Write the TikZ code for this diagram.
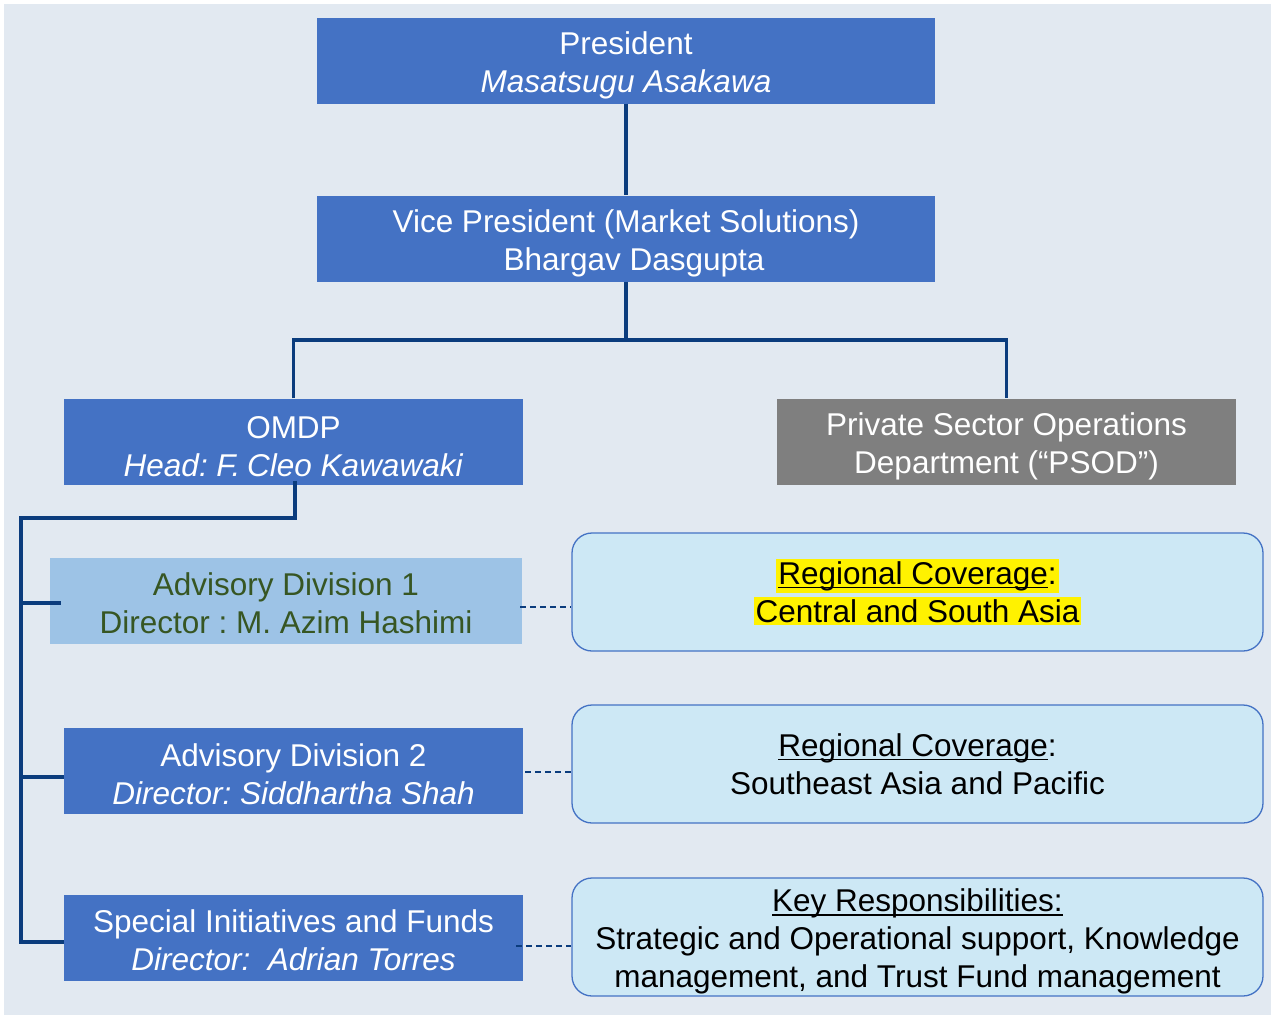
\documentclass[tikz,border=0pt]{standalone}
\usepackage{fontspec}
\setmainfont{Liberation Sans}
\frenchspacing
\definecolor{bgc}{HTML}{E2E9F1}
\definecolor{boxblue}{HTML}{4472C4}
\definecolor{advlight}{HTML}{9DC3E6}
\definecolor{advgreen}{HTML}{375623}
\definecolor{psodgray}{HTML}{7F7F7F}
\definecolor{navy}{HTML}{0B3C7D}
\definecolor{covfill}{HTML}{CDE8F5}
\newcommand\bigfs{\fontsize{31.5}{38}\selectfont\frenchspacing}
\newcommand\myul[1]{\setbox0\hbox{#1}\rlap{\rule[-4pt]{\wd0}{1.6pt}}\box0}
\newcommand\topstrut[1]{\rule{0pt}{#1}}
\setlength\fboxsep{2pt}
\begin{document}
\begin{tikzpicture}[x=1pt,y=-1pt,
  box/.style={rectangle, fill=boxblue, text=white, align=center, font=\bigfs, inner sep=0pt, minimum height=86},
  covbox/.style={rectangle, rounded corners=20pt, draw=boxblue, line width=1.3pt, fill=covfill, text=black, align=center, font=\bigfs, inner sep=0pt, minimum width=691, minimum height=118},
  conn/.style={draw=navy, line width=3.2pt},
  dashline/.style={draw=navy, line width=2.2pt, dash pattern=on 6pt off 4pt}]
\useasboundingbox (0,0) rectangle (1274,1018);
\fill[bgc] (4,4) rectangle (1271,1015);

\node[box, minimum width=618] (pres) at (626,60.5) {\topstrut{33pt}President\\\textit{Masatsugu Asakawa}};
\node[box, minimum width=618] (vp) at (626,238.5) {\topstrut{33pt}Vice President (Market Solutions)\\\hspace*{16pt}Bhargav Dasgupta};
\node[box, minimum width=459] (omdp) at (293.5,441.5) {\topstrut{33pt}OMDP\\\textit{Head: F.\kern-2pt\ Cleo Kawawaki}};
\node[box, fill=psodgray, minimum width=459] (psod) at (1006.5,441.5) {\topstrut{33pt}Private Sector Operations\\Department (“PSOD”)};

\node[box, fill=advlight, text=advgreen, minimum width=472] (adv1) at (286,601) {\topstrut{27pt}Advisory Division 1\\Director : M. Azim Hashimi};
\node[box, minimum width=459] (adv2) at (293.5,771) {\topstrut{29pt}Advisory Division 2\\\textit{Director: Siddhartha Shah}};
\node[box, minimum width=459] (sif) at (293.5,938) {\topstrut{27pt}Special Initiatives and Funds\\\textit{Director:\ \ Adrian Torres}};

\node[covbox] (cov1) at (917.5,592) {\colorbox{yellow}{\myul{Regional Coverage}:}\\\colorbox{yellow}{Central and South Asia}};
\node[covbox] (cov2) at (917.5,764) {\myul{Regional Coverage}:\\Southeast Asia and Pacific};
\node[covbox] (cov3) at (917.5,937) {\topstrut{32pt}\myul{Key Responsibilities:}\\Strategic and Operational support, Knowledge\\management, and Trust Fund management};

\coordinate (j1) at (626,340);
\draw[conn] (pres.south) -- (vp.north);
\draw[conn] (vp.south) -- (j1);
\draw[conn] (omdp.north) |- (j1) -| (psod.north);

\coordinate (spine) at (21,518);
\coordinate (b1) at (21,603);
\coordinate (b2) at (21,777);
\coordinate (b3) at (21,942);
\draw[conn] ([yshift=4pt,xshift=1.5pt]omdp.south) |- (spine) -- (b3) -- (b3 -| sif.west);
\draw[conn] (b1) -- ([xshift=11pt]b1 -| adv1.west);
\draw[conn] (b2) -- (b2 -| adv2.west);

\draw[dashline] ([yshift=-6pt,xshift=-2pt]adv1.east) -- ([yshift=-6pt]adv1.east -| cov1.west);
\draw[dashline] ([yshift=-1pt,xshift=2pt]adv2.east) -- ([yshift=-1pt]adv2.east -| cov2.west);
\draw[dashline] ([yshift=-8pt,xshift=-7pt]sif.east) -- ([yshift=-8pt]sif.east -| cov3.west);
\end{tikzpicture}
\end{document}
